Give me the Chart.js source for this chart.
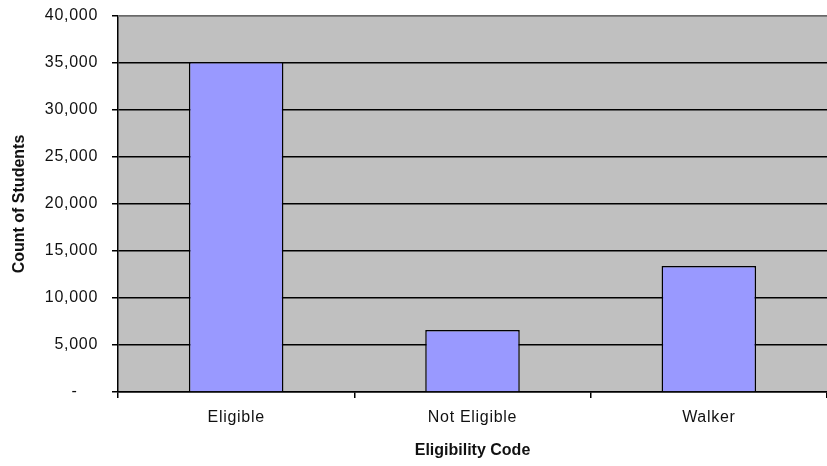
<!DOCTYPE html>
<html>
<head>
<meta charset="utf-8">
<script src="https://cdn.jsdelivr.net/npm/chart.js@4"></script>
<style>
    html, body { margin: 0; padding: 0; background: #fff; }
    #wrap { width: 827px; height: 466px; }
</style>
</head>
<body>
<div id="wrap"><canvas id="eligChart"></canvas></div>
<script>
// Chart data
const categories = ['Eligible', 'Not Eligible', 'Walker'];
const studentCounts = [35100, 6600, 13400];
const yTicks = [0, 5000, 10000, 15000, 20000, 25000, 30000, 35000, 40000];

// gray plot background + gray top border, like the old excel chart
const plotBackground = {
    id: 'plotBackground',
    beforeDraw(chart) {
        const { ctx, chartArea } = chart;
        ctx.letterSpacing = '0px';
        ctx.save();
        ctx.fillStyle = '#C0C0C0';
        ctx.fillRect(chartArea.left, chartArea.top, chartArea.right - chartArea.left, chartArea.bottom - chartArea.top);
        ctx.restore();
    },
    beforeDatasetsDraw(chart) {
        // tick labels are drawn after this (ticks.z = 1), excel text looks a bit wider
        chart.ctx.letterSpacing = '0.7px';
    },
    afterDraw(chart) {
        const { ctx, chartArea } = chart;
        ctx.save();
        ctx.strokeStyle = '#8c8c8c';
        ctx.lineWidth = 1.5;
        ctx.beginPath();
        ctx.moveTo(chartArea.left, chartArea.top);
        ctx.lineTo(chartArea.right, chartArea.top);
        ctx.stroke();
        ctx.restore();
        ctx.letterSpacing = '0px';
    }
};

const tickFont = { family: 'Liberation Sans, Arial, sans-serif', size: 16 };
const titleFont = { family: 'Liberation Sans, Arial, sans-serif', size: 16, weight: 'bold' };

const ctx = document.getElementById('eligChart').getContext('2d');

const eligChart = new Chart(ctx, {
    type: 'bar',
    data: {
        labels: categories,
        datasets: [{
            label: 'Count of Students',
            data: studentCounts,
            backgroundColor: '#9999FF',
            borderColor: '#000000',
            borderWidth: 1.5,
            categoryPercentage: 1,
            barPercentage: 0.4
        }]
    },
    options: {
        responsive: true,
        maintainAspectRatio: false,
        animation: false,
        layout: {
            padding: { top: 16, right: 0, bottom: 0, left: 0 }
        },
        plugins: {
            legend: { display: false },
            tooltip: { enabled: false }
        },
        scales: {
            x: {
                grid: {
                    offset: true,
                    drawOnChartArea: false,
                    drawTicks: true,
                    tickLength: 6,
                    color: '#000',
                    lineWidth: 1.5
                },
                border: { color: '#000', width: 1.5 },
                ticks: {
                    z: 1,
                    color: '#111',
                    font: tickFont,
                    padding: 10,
                    maxRotation: 0
                },
                title: {
                    display: true,
                    text: 'Eligibility Code',
                    color: '#111',
                    font: titleFont,
                    padding: { top: 4, bottom: 6 }
                },
                afterFit(scale) {
                    scale.height = 74;
                }
            },
            y: {
                min: 0,
                max: 40000,
                afterBuildTicks(scale) {
                    scale.ticks = yTicks.map(v => ({ value: v }));
                },
                grid: {
                    color: '#000',
                    lineWidth: 1.5,
                    tickLength: 6
                },
                border: { color: '#000', width: 1.5 },
                ticks: {
                    z: 1,
                    color: '#111',
                    font: tickFont,
                    padding: 14,
                    callback: (value) => value === 0 ? '-    ' : value.toLocaleString('en-US')
                },
                title: {
                    display: true,
                    text: 'Count of Students',
                    color: '#111',
                    font: titleFont,
                    padding: { top: 10, bottom: 0 }
                },
                afterFit(scale) {
                    scale.width = 118;
                    scale.paddingTop = 0;
                    scale.paddingBottom = 0;
                }
            }
        }
    },
    plugins: [plotBackground]
});
</script>
</body>
</html>
